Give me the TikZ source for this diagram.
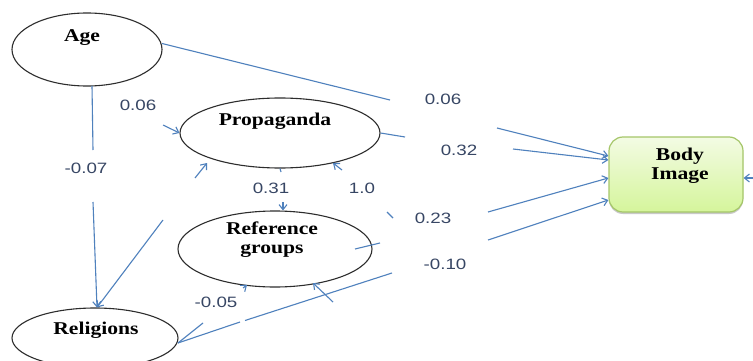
\documentclass[tikz,border=0pt]{standalone}
\usepackage{fontspec}
\setmainfont{Liberation Serif}
\newfontfamily\numfont[FakeStretch=1.25]{Liberation Sans}
\newfontfamily\nodefont[FakeStretch=1.2]{Liberation Serif}
\usetikzlibrary{arrows.meta,shapes.geometric,shadows}
\definecolor{lineblue}{RGB}{79,129,189}
\definecolor{numcol}{RGB}{55,70,100}
\definecolor{ellcol}{RGB}{45,45,45}
\definecolor{boxborder}{RGB}{165,198,105}
\definecolor{boxtop}{RGB}{243,251,228}
\definecolor{boxbot}{RGB}{213,245,155}
\begin{document}
\begin{tikzpicture}[x=1pt,y=-1pt,
  latent/.style={ellipse, draw=ellcol, line width=1.1pt, inner sep=0pt},
  nodetext/.style={font=\nodefont\bfseries\fontsize{18}{19}\selectfont, text=black, align=center, inner sep=0pt},
  coef/.style={font=\numfont\fontsize{15}{17}\selectfont, text=numcol, inner sep=0pt},
  conn/.style={draw=lineblue, line width=1.1pt},
  arr/.style={conn, -{Straight Barb[length=5pt,width=8pt]}}]
\clip (0,0) rectangle (753,361);
\fill[white] (0,0) rectangle (753,361);
% latent variables
\node[latent, minimum width=150pt, minimum height=73pt] (age) at (87,49.5) {};
\node[nodetext] (agetxt) at (82,38) {Age};
\node[latent, minimum width=200pt, minimum height=70pt] (prop) at (280,133) {};
\node[nodetext] (proptxt) at (275,121) {Propaganda};
\node[latent, minimum width=194pt, minimum height=76pt] (ref) at (275,249) {};
\node[nodetext] (reftxt) at (272,240) {Reference\\groups};
\node[latent, minimum width=166pt, minimum height=60pt] (rel) at (95,338) {};
\node[nodetext] (reltxt) at (96,330) {Religions};
% outcome
\node[draw=boxborder, rounded corners=14pt, top color=boxtop, bottom color=boxbot, line width=1.2pt, minimum width=134pt, minimum height=75pt,
      drop shadow={shadow xshift=0pt, shadow yshift=-2pt, opacity=0.35, fill=black!60}] (body) at (676,174.5) {};
\node[nodetext] (bodytxt) at (680,166) {Body\\Image};
% gap coordinates
\coordinate (g1a) at (390,100); \coordinate (g1b) at (497,128);
\coordinate (g2a) at (405,137); \coordinate (g2b) at (513,149);
\coordinate (g3a) at (380,243); \coordinate (g3b) at (488,212);
\coordinate (g4a) at (240,322); \coordinate (g4b) at (245,320.5);
\coordinate (g4c) at (392,273); \coordinate (g4d) at (488,240);
\coordinate (g5a) at (93,150); \coordinate (g5b) at (93,202);
\coordinate (g6a) at (195,178); \coordinate (g6b) at (163,220);
\coordinate (g7) at (163,125);
\coordinate (g8a) at (281,172); \coordinate (g8b) at (283,202);
\coordinate (g9a) at (342,170); \coordinate (g9b) at (387,212); \coordinate (g9c) at (393,218);
\coordinate (g10) at (333,302);
\coordinate (g11a) at (203,323); \coordinate (g11b) at (243,288);
\coordinate (g12) at (760,178);
% Age -> Body
\draw[conn] ([shift={(75,-6)}]age.center) -- (g1a);
\draw[arr] (g1b) -- ([shift={(0,-18.5)}]body.west);
\node[coef] (c1) at (443,99) {0.06};
% Propaganda -> Body
\draw[conn] (prop.east) -- (g2a);
\draw[arr] (g2b) -- ([shift={(0,-14.5)}]body.west);
\node[coef] (c2) at (459,150) {0.32};
% Reference groups -> Body
\draw[conn] ([shift={(80,0)}]ref.center) -- (g3a);
\draw[arr] (g3b) -- ([shift={(0,3.5)}]body.west);
\node[coef] (c3) at (433,218) {0.23};
% Religions -> Body
\draw[conn] ([shift={(83,5)}]rel.center) -- (g4a);
\draw[conn] (g4b) -- (g4c);
\draw[arr] (g4d) -- ([shift={(0,25.5)}]body.west);
\node[coef] (c4) at (445,264) {-0.10};
% Age -> Religions
\draw[conn] ([shift={(5,36.5)}]age.center) -- (g5a);
\draw[arr] (g5b) -- ([shift={(2,0)}]rel.north);
\node[coef] (c5) at (86,168) {-0.07};
% Propaganda <-> Religions
\draw[arr] (g6a) -- ([shift={(-73,30)}]prop.center);
\draw[arr] (g6b) -- ([shift={(2,0)}]rel.north);
% Age -> Propaganda
\draw[arr] (g7) -- (prop.west);
\node[coef] (c7) at (138,105) {0.06};
% Propaganda -> Reference groups
\draw[conn] (prop.south) -- (g8a);
\draw[arr] (g8b) -- ([shift={(8,0)}]ref.north);
\node[coef] (c8) at (271,188) {0.31};
% 1.0
\draw[arr] (g9a) -- ([shift={(53,30)}]prop.center);
\draw[conn] (g9b) -- (g9c);
\node[coef] (c9) at (362,188) {1.0};
% stub into Reference groups
\draw[arr] (g10) -- ([shift={(38,34)}]ref.center);
% Religions <-> Reference groups
\draw[conn] ([shift={(83,5)}]rel.center) -- (g11a);
\draw[arr] (g11b) -- ([shift={(-28,36)}]ref.center);
\node[coef] (c11) at (216,302) {-0.05};
% stub into Body Image from the right
\draw[arr] (g12) -- ([shift={(0,3.5)}]body.east);
\end{tikzpicture}
\end{document}
